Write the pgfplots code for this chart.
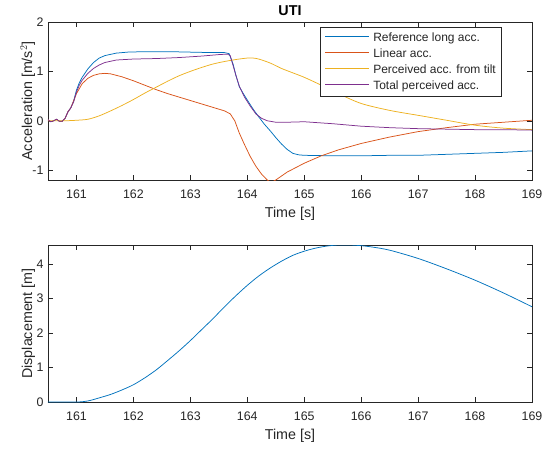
\documentclass[border=0pt]{standalone}
\usepackage{pgfplots}
\pgfplotsset{compat=1.18}
\usepackage{fontspec}
\setmainfont{Liberation Sans}
\definecolor{mblue}{rgb}{0,0.447,0.741}
\definecolor{morange}{rgb}{0.85,0.325,0.098}
\definecolor{myellow}{rgb}{0.929,0.694,0.125}
\definecolor{mpurple}{rgb}{0.494,0.184,0.556}
\definecolor{axgray}{rgb}{0.15,0.15,0.15}
\newcommand{\legline}[1]{\textcolor{#1}{\rule[3.8pt]{44pt}{0.8pt}}}
\pgfplotsset{
  mystyle/.style={
    scale only axis, width=484pt,
    xmin=160.5, xmax=169,
    xtick={161,162,...,169},
    tick align=inside, tickwidth=5pt,
    axis line style={axgray, line width=0.5pt},
    every tick/.style={axgray, line width=0.5pt},
    tick label style={font=\fontsize{12.4}{14}\selectfont, text=axgray},
    label style={font=\fontsize{14.3}{16}\selectfont, text=axgray},
    /pgf/number format/assume math mode=true,
    xticklabel style={anchor=base, yshift=-18pt},
    yticklabel style={xshift=-1pt},
    xlabel={Time [s]},
    xlabel style={at={(axis description cs:0.5,0)}, anchor=base, yshift=-37.5pt},
    ylabel style={at={(axis description cs:-0.033,0.5)}, anchor=base},
    every axis plot/.append style={line width=0.75pt},
  }
}
\begin{document}
\begin{tikzpicture}
\useasboundingbox (0,0) rectangle (542pt,-451pt);
\begin{axis}[mystyle, at={(48pt,-22pt)}, anchor=north west, height=158pt,
  ymin=-1.2, ymax=2, ytick={-1,0,1,2},
  ylabel={Acceleration [m/s$^{2}$]},
  title={UTI}, title style={font=\fontsize{14.3}{16}\selectfont\bfseries, at={(axis description cs:0.5,1)}, anchor=base, yshift=1pt},
]
\addplot[color=mblue] coordinates {
(160.5,0.02)(160.55,-0.02)(160.6,0.0)(160.65,0.03)(160.7,-0.01)(160.75,-0.01)(160.8,0.05)(160.85,0.18)(160.9,0.26)(160.95,0.40)(161.0,0.62)(161.05,0.77)(161.1,0.88)(161.2,1.05)(161.3,1.18)(161.4,1.27)(161.5,1.32)(161.7,1.37)(161.9,1.39)(162.2,1.40)(162.6,1.40)(163.0,1.39)(163.4,1.38)(163.6,1.38)(163.68,1.36)(163.75,1.15)(163.8,0.92)(163.86,0.69)(163.93,0.55)(164.0,0.42)(164.1,0.24)(164.2,0.08)(164.3,-0.07)(164.4,-0.20)(164.5,-0.34)(164.6,-0.47)(164.7,-0.58)(164.8,-0.66)(164.9,-0.69)(165.0,-0.70)(165.5,-0.71)(166.0,-0.71)(166.5,-0.70)(167.0,-0.70)(167.5,-0.68)(168.0,-0.66)(168.5,-0.64)(169.0,-0.61)
};
\addplot[color=morange] coordinates {
(160.5,0.02)(160.55,-0.02)(160.6,0.0)(160.65,0.03)(160.7,-0.01)(160.75,-0.01)(160.8,0.05)(160.85,0.18)(160.9,0.26)(161.0,0.55)(161.1,0.75)(161.2,0.86)(161.3,0.92)(161.4,0.95)(161.5,0.96)(161.6,0.95)(161.8,0.89)(162.0,0.81)(162.2,0.72)(162.4,0.63)(162.6,0.55)(162.8,0.48)(163.0,0.41)(163.2,0.34)(163.4,0.27)(163.6,0.20)(163.7,0.14)(163.78,0.0)(163.86,-0.25)(163.95,-0.48)(164.05,-0.72)(164.15,-0.92)(164.25,-1.08)(164.35,-1.20)(164.42,-1.25)(164.5,-1.20)(164.7,-1.04)(165.0,-0.86)(165.3,-0.71)(165.6,-0.59)(166.0,-0.46)(166.5,-0.33)(167.0,-0.22)(167.5,-0.14)(168.0,-0.07)(168.5,-0.03)(169.0,0.01)
};
\addplot[color=myellow, smooth] coordinates {
(160.5,0.0)(160.8,0.0)(161.0,0.01)(161.2,0.03)(161.4,0.10)(161.6,0.20)(161.8,0.31)(162.0,0.43)(162.2,0.56)(162.4,0.68)(162.6,0.80)(162.8,0.91)(163.0,1.00)(163.2,1.08)(163.4,1.15)(163.6,1.20)(163.8,1.24)(164.0,1.27)(164.1,1.27)(164.2,1.25)(164.4,1.17)(164.6,1.06)(164.8,0.97)(165.0,0.88)(165.3,0.72)(165.6,0.55)(166.0,0.35)(166.5,0.21)(167.0,0.11)(167.5,0.01)(168.0,-0.09)(168.5,-0.15)(169.0,-0.18)
};
\addplot[color=mpurple] coordinates {
(160.5,0.02)(160.55,-0.02)(160.6,0.0)(160.65,0.03)(160.7,-0.01)(160.75,-0.01)(160.8,0.05)(160.85,0.18)(160.9,0.26)(160.95,0.38)(161.0,0.58)(161.05,0.72)(161.1,0.82)(161.2,0.96)(161.3,1.06)(161.4,1.13)(161.5,1.18)(161.7,1.23)(162.0,1.25)(162.4,1.26)(162.8,1.28)(163.2,1.31)(163.5,1.34)(163.65,1.35)(163.7,1.32)(163.75,1.12)(163.8,0.92)(163.86,0.70)(163.95,0.48)(164.05,0.30)(164.15,0.14)(164.25,0.05)(164.35,0.0)(164.5,-0.03)(164.7,-0.03)(165.0,-0.02)(165.5,-0.06)(166.0,-0.11)(166.5,-0.14)(167.0,-0.16)(167.5,-0.17)(168.0,-0.18)(168.5,-0.18)(169.0,-0.19)
};
\node[draw=axgray, line width=0.5pt, fill=white, anchor=north east, inner xsep=5pt, inner ysep=2.5pt, font=\fontsize{12}{16}\selectfont, text=axgray] at (rel axis cs:0.936,0.968) {%
\begin{tabular}{@{}l@{\hspace{4pt}}l@{}}
\legline{mblue} & Reference long acc.\\
\legline{morange} & Linear acc.\\
\legline{myellow} & Perceived acc. from tilt\\
\legline{mpurple} & Total perceived acc.
\end{tabular}};
\end{axis}
\begin{axis}[mystyle, at={(48pt,-245pt)}, anchor=north west, height=157pt,
  ymin=0, ymax=4.55, ytick={0,1,2,3,4},
  ylabel={Displacement [m]},
]
\addplot[color=mblue, smooth] coordinates {
(160.5,0)(161.0,0)(161.2,0.03)(161.4,0.12)(161.6,0.22)(161.8,0.35)(162.0,0.50)(162.2,0.70)(162.4,0.93)(162.6,1.20)(162.8,1.48)(163.0,1.78)(163.2,2.10)(163.4,2.42)(163.6,2.76)(163.8,3.08)(164.0,3.38)(164.2,3.65)(164.4,3.88)(164.6,4.08)(164.8,4.25)(165.0,4.37)(165.2,4.46)(165.4,4.52)(165.6,4.55)(165.8,4.55)(166.0,4.53)(166.2,4.49)(166.5,4.40)(167.0,4.16)(167.5,3.86)(168.0,3.53)(168.5,3.16)(169.0,2.76)
};
\end{axis}
\end{tikzpicture}
\end{document}
